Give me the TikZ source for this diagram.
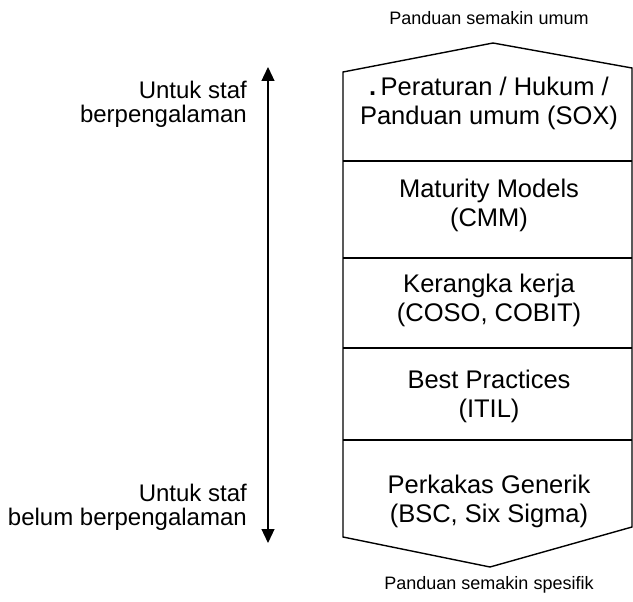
\documentclass[tikz,border=0pt]{standalone}
\usepackage{fontspec}
\setmainfont{Liberation Sans}
\usetikzlibrary{arrows.meta}
\begin{document}
\begin{tikzpicture}[x=1pt,y=-1pt,
  boxtext/.style={align=center,font=\fontsize{25.5}{29}\selectfont,inner sep=0pt},
  sidetext/.style={align=right,font=\fontsize{24}{24}\selectfont,inner sep=0pt,anchor=east},
  endtext/.style={font=\fontsize{18}{20}\selectfont,inner sep=0pt},
  outline/.style={line width=1.4pt,line join=miter},
  divider/.style={line width=2pt},
  twoway/.style={line width=1.2pt,>={Triangle[length=14pt,width=13pt]},<->}]
\useasboundingbox (0,0) rectangle (633,602);
% outline of the stack
\coordinate (tl) at (343,72);
\coordinate (tp) at (493,43);
\coordinate (tr) at (632,68);
\coordinate (bl) at (343,537);
\coordinate (bp) at (490,567);
\coordinate (br) at (632,527);
\draw[outline] (bl) -- (tl) -- (tp) -- (tr) -- (br) -- (bp) -- cycle;
% dividers
\foreach \yy/\nm in {161/a,258/b,348/c,440/d}{
  \coordinate (L\nm) at (343,\yy);
  \coordinate (R\nm) at (632,\yy);
  \draw[divider] (L\nm) -- (R\nm);
}
% box texts
\node[boxtext] (t1) at (489,103) {{\bfseries.}\,Peraturan / Hukum /\\Panduan umum (SOX)};
\node[boxtext] (t2) at (489,205) {Maturity Models\\(CMM)};
\node[boxtext] (t3) at (489,300) {Kerangka kerja\\(COSO, COBIT)};
\node[boxtext] (t4) at (489,396) {Best Practices\\(ITIL)};
\node[boxtext] (t5) at (489,501) {Perkakas Generik\\(BSC, Six Sigma)};
% end labels
\node[endtext] (top) at (489,18) {Panduan semakin umum};
\node[endtext] (bot) at (489,585) {Panduan semakin spesifik};
% side labels
\node[sidetext] (s1) at (247,104) {Untuk staf\\berpengalaman};
\node[sidetext] (s2) at (247,507) {Untuk staf\\belum berpengalaman};
% arrow
\coordinate (atop) at (268,67);
\coordinate (abot) at (268,543);
\draw[twoway] (abot) -- (atop);
\end{tikzpicture}
\end{document}
